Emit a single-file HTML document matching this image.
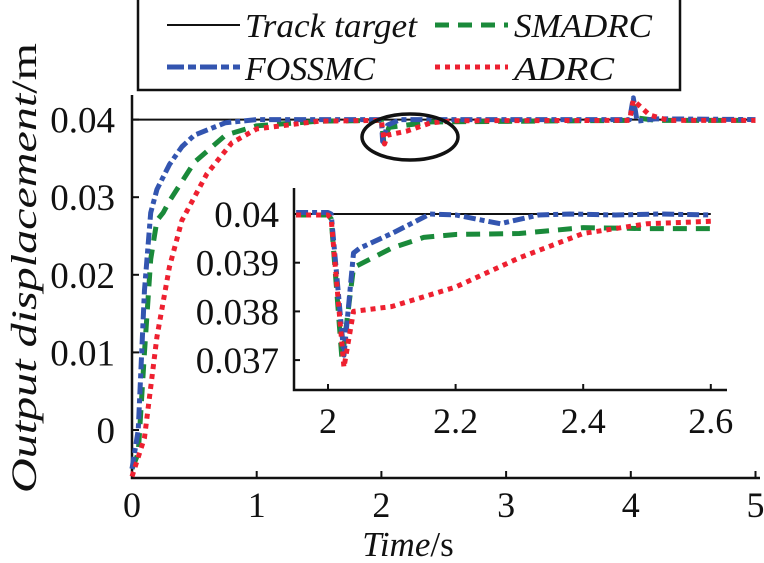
<!DOCTYPE html>
<html><head><meta charset="utf-8"><style>
body{margin:0;background:#fff}
svg{display:block}
text{font-family:"Liberation Serif",serif;fill:#111}
</style></head><body>
<svg id="c" width="764" height="563">
<rect x="138" y="-2" width="542" height="92" fill="#fff" stroke="#111" stroke-width="2.5"/>
<g><line x1="167" y1="25" x2="240" y2="25" stroke="#111" stroke-width="2"/><text x="245" y="37" font-size="34" font-style="italic" textLength="172" lengthAdjust="spacingAndGlyphs">Track target</text></g>
<g><line x1="435" y1="25" x2="508" y2="25" stroke="#1a8a3a" stroke-width="5" stroke-dasharray="14,9"/><text x="514" y="37" font-size="34" font-style="italic" textLength="138" lengthAdjust="spacingAndGlyphs">SMADRC</text></g>
<g><line x1="167" y1="67" x2="240" y2="67" stroke="#3355b0" stroke-width="5" stroke-dasharray="17,4,8,4"/><text x="245" y="80" font-size="34" font-style="italic" textLength="130" lengthAdjust="spacingAndGlyphs">FOSSMC</text></g>
<g><line x1="435" y1="67" x2="508" y2="67" stroke="#ee2030" stroke-width="5" stroke-dasharray="5,5"/><text x="514" y="80" font-size="34" font-style="italic" textLength="100" lengthAdjust="spacingAndGlyphs">ADRC</text></g>
<text transform="translate(36,268) rotate(-90)" text-anchor="middle" font-size="36" textLength="450" lengthAdjust="spacingAndGlyphs"><tspan font-style="italic">Output displacement</tspan>/m</text>
<text x="408" y="556" text-anchor="middle" font-size="35"><tspan font-style="italic">Time</tspan>/s</text>
<g id="main"></g>
<ellipse cx="410" cy="137" rx="48" ry="23" fill="none" stroke="#111" stroke-width="3.5"/>
<g id="inset"></g>
</svg>
<script>
const xTicks=[0,1,2,3,4,5];
const yTicks=[0,0.01,0.02,0.03,0.04];
const yTickLabels=["0","0.01","0.02","0.03","0.04"];
const target=[[0,0.04],[5,0.04]];
const fossmc=[[0,-0.005],[0.05,0.0],[0.1,0.018],[0.15,0.028],[0.2,0.031],[0.3,0.0342],[0.4,0.0365],[0.5,0.038],[0.75,0.0396],[1,0.04],[2.0,0.04],[2.01,0.0372],[2.05,0.0393],[2.15,0.04],[3.99,0.04],[4.02,0.0428],[4.05,0.0398],[4.2,0.0401],[5,0.04]];
const smadrc=[[0,-0.005],[0.05,-0.003],[0.1,0.01],[0.15,0.022],[0.2,0.027],[0.25,0.028],[0.3,0.0295],[0.5,0.0345],[0.75,0.038],[1,0.0392],[1.5,0.0398],[2.0,0.0399],[2.02,0.037],[2.06,0.039],[2.4,0.0397],[3.99,0.0399],[4.02,0.0418],[4.06,0.0402],[4.2,0.0399],[5,0.0399]];
const adrc=[[0,-0.006],[0.1,-0.001],[0.2,0.012],[0.3,0.021],[0.4,0.027],[0.6,0.033],[0.8,0.037],[1.0,0.0388],[1.5,0.0398],[2.0,0.0399],[2.025,0.03685],[2.05,0.038],[2.2,0.0385],[2.4,0.0396],[2.6,0.03985],[3.99,0.0399],[4.02,0.0425],[4.15,0.0406],[4.3,0.0399],[5,0.0399]];
const ixTicks=[2,2.2,2.4,2.6];
const ixTickLabels=["2","2.2","2.4","2.6"];
const iyTicks=[0.037,0.038,0.039,0.04];
const iyTickLabels=["0.037","0.038","0.039","0.04"];
const iFossmc=[[1.95,0.04003],[2.0,0.04003],[2.005,0.0400],[2.025,0.0371],[2.04,0.0392],[2.05,0.0393],[2.1,0.0396],[2.16,0.0400],[2.2,0.03998],[2.27,0.0398],[2.33,0.03998],[2.38,0.0400],[2.45,0.03998],[2.52,0.0400],[2.6,0.03998]];
const iSmadrc=[[1.95,0.03998],[2.0,0.03998],[2.005,0.0399],[2.022,0.0370],[2.04,0.0389],[2.055,0.0390],[2.1,0.0393],[2.15,0.03952],[2.2,0.03958],[2.3,0.0396],[2.4,0.03972],[2.5,0.0397],[2.6,0.0397]];
const iAdrc=[[1.95,0.03998],[2.0,0.03998],[2.005,0.0399],[2.025,0.03685],[2.04,0.0380],[2.1,0.0381],[2.2,0.0385],[2.3,0.0391],[2.4,0.0396],[2.5,0.0398],[2.6,0.03985]];
const NS='http://www.w3.org/2000/svg';
function mk(p,t,a){const e=document.createElementNS(NS,t);for(const k in a)e.setAttribute(k,a[k]);p.appendChild(e);return e;}
const sx=v=>132+v*124.7, sy=v=>430-v*7760;
const ix=v=>328+(v-2)*638, iy=v=>214-(v-0.04)*48700;
const styles={target:{stroke:'#111','stroke-width':2},smadrc:{stroke:'#1a8a3a','stroke-width':5,'stroke-dasharray':'14,9'},fossmc:{stroke:'#3355b0','stroke-width':5,'stroke-dasharray':'12,4,5,4'},adrc:{stroke:'#ee2030','stroke-width':5,'stroke-dasharray':'5,5'}};
function line(g,data,fx,fy,st,name){const el=mk(g,'polyline',Object.assign({points:data.map(d=>fx(d[0])+','+fy(d[1])).join(' '),fill:'none','stroke-linejoin':'round'},st));

}
const m=document.getElementById('main');
let ax=mk(m,'path',{d:'M132,95 V478 H760',stroke:'#111','stroke-width':2.5,fill:'none'});


xTicks.forEach(t=>{mk(m,'line',{x1:sx(t),x2:sx(t),y1:478,y2:471,stroke:'#111','stroke-width':2});const tx=mk(m,'text',{x:sx(t),y:517,'text-anchor':'middle','font-size':36});tx.textContent=t;

});
yTicks.forEach((t,i)=>{mk(m,'line',{x1:132,x2:139,y1:sy(t),y2:sy(t),stroke:'#111','stroke-width':2});const tx=mk(m,'text',{x:115,y:sy(t)+13,'text-anchor':'end','font-size':37});tx.textContent=yTickLabels[i];

});
line(m,target,sx,sy,styles.target,'track-target-line');
line(m,smadrc,sx,sy,styles.smadrc,'smadrc-line');
line(m,fossmc,sx,sy,styles.fossmc,'fossmc-line');
line(m,adrc,sx,sy,styles.adrc,'adrc-line');
const g=document.getElementById('inset');
let bg=mk(g,'rect',{x:294,y:186,width:434,height:205,fill:'#fff'});


let iax=mk(g,'path',{d:'M294,188 V390 H727',stroke:'#111','stroke-width':2.5,fill:'none'});


ixTicks.forEach((t,i)=>{mk(g,'line',{x1:ix(t),x2:ix(t),y1:390,y2:384,stroke:'#111','stroke-width':2});const tx=mk(g,'text',{x:ix(t),y:433,'text-anchor':'middle','font-size':36});tx.textContent=ixTickLabels[i];

});
iyTicks.forEach((t,i)=>{mk(g,'line',{x1:294,x2:300,y1:iy(t),y2:iy(t),stroke:'#111','stroke-width':2});const tx=mk(g,'text',{x:279,y:iy(t)+13,'text-anchor':'end','font-size':37});tx.textContent=iyTickLabels[i];

});
line(g,[[1.95,0.04],[2.6,0.04]],ix,iy,styles.target,'inset-track-target-line');
line(g,iSmadrc,ix,iy,styles.smadrc,'inset-smadrc-line');
line(g,iFossmc,ix,iy,styles.fossmc,'inset-fossmc-line');
line(g,iAdrc,ix,iy,styles.adrc,'inset-adrc-line');
</script>
</body></html>
